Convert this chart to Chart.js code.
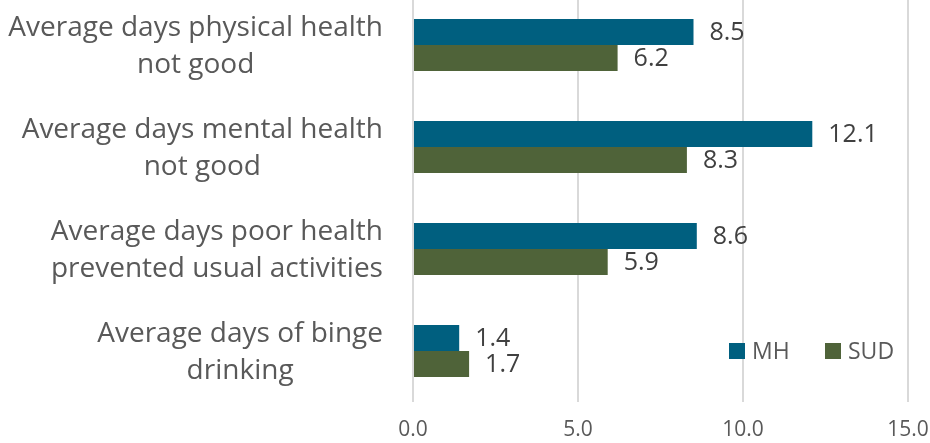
<!DOCTYPE html>
<html lang="en">
<head>
<meta charset="UTF-8">
<title>Average days</title>
<script src="https://cdn.jsdelivr.net/npm/chart.js"></script>
<style>
    html, body { margin: 0; padding: 0; background: #fff; overflow: hidden; }
    #wrap { position: absolute; left: 0; top: -6px; width: 930px; height: 449px; }
</style>
</head>
<body>
<div id="wrap"><canvas id="chart" width="930" height="449"></canvas></div>
<script>
    // categories, each split into the lines shown on the axis
    const categories = [
        ['Average days physical health', 'not good'],
        ['Average days mental health', 'not good'],
        ['Average days poor health', 'prevented usual activities'],
        ['Average days of binge', 'drinking']
    ];
    const mhValues = [8.5, 12.1, 8.6, 1.4];
    const sudValues = [6.2, 8.3, 5.9, 1.7];
    const seriesNames = ['MH', 'SUD'];
    const xTicks = [0, 5, 10, 15];

    const FONT = '"Open Sans", Lato, sans-serif';
    const TEXT = '#595959';

    // value labels to the right of each bar
    const valueLabels = {
        id: 'valueLabels',
        afterDatasetsDraw(chart) {
            const ctx = chart.ctx;
            ctx.save();
            ctx.font = '25px ' + FONT;
            ctx.fillStyle = '#404040';
            ctx.textAlign = 'left';
            ctx.textBaseline = 'middle';
            chart.data.datasets.forEach((ds, i) => {
                chart.getDatasetMeta(i).data.forEach((bar, j) => {
                    ctx.fillText(ds.data[j].toFixed(1), bar.x + 16, bar.y + 1);
                });
            });
            ctx.restore();
        }
    };

    // category labels: block right-aligned, lines centred within block
    const categoryLabels = {
        id: 'categoryLabels',
        afterDraw(chart) {
            const ctx = chart.ctx;
            const yScale = chart.scales.y;
            const right = chart.chartArea.left - 30;
            const lineH = 37;
            ctx.save();
            ctx.font = '28px ' + FONT;
            ctx.fillStyle = TEXT;
            ctx.textAlign = 'center';
            ctx.textBaseline = 'middle';
            categories.forEach((lines, i) => {
                const w = Math.max(...lines.map(l => ctx.measureText(l).width));
                const cx = right - w / 2;
                const cy = yScale.getPixelForTick(i) + 2;
                const top = cy - (lines.length - 1) * lineH / 2;
                lines.forEach((l, k) => ctx.fillText(l, cx, top + k * lineH));
            });
            ctx.restore();
        }
    };

    // legend inside the plot, bottom right
    const insideLegend = {
        id: 'insideLegend',
        afterDraw(chart) {
            const ctx = chart.ctx;
            const area = chart.chartArea;
            const y = area.bottom - 51;
            let x = area.right - 179;
            ctx.save();
            ctx.font = '23px ' + FONT;
            ctx.textBaseline = 'middle';
            ctx.textAlign = 'left';
            chart.data.datasets.forEach(ds => {
                ctx.fillStyle = ds.backgroundColor;
                ctx.fillRect(x, y - 8, 16, 16);
                ctx.fillStyle = TEXT;
                ctx.fillText(ds.label, x + 23, y + 1);
                x += 96;
            });
            ctx.restore();
        }
    };

    new Chart(document.getElementById('chart'), {
        type: 'bar',
        data: {
            labels: categories.map(c => c.join(' ')),
            datasets: [
                { label: seriesNames[0], data: mhValues, backgroundColor: '#005F7F' },
                { label: seriesNames[1], data: sudValues, backgroundColor: '#4F6339' }
            ]
        },
        options: {
            indexAxis: 'y',
            responsive: false,
            animation: false,
            categoryPercentage: 0.51,
            barPercentage: 1.0,
            layout: { padding: { left: 0, right: 22, top: 0, bottom: 0 } },
            plugins: {
                legend: { display: false },
                tooltip: { enabled: false }
            },
            scales: {
                x: {
                    min: 0,
                    max: 15,
                    afterBuildTicks(scale) { scale.ticks = xTicks.map(v => ({ value: v })); },
                    afterFit(scale) {
                        scale.height = 41;
                        scale.paddingLeft = 0;
                        scale.paddingRight = 0;
                    },
                    grid: { color: '#d9d9d9', lineWidth: 2, drawTicks: false },
                    border: { display: false },
                    ticks: {
                        padding: 15,
                        color: TEXT,
                        font: { family: FONT, size: 21 },
                        callback: v => Number(v).toFixed(1)
                    }
                },
                y: {
                    afterFit(scale) { scale.width = 413; },
                    grid: { display: false },
                    border: { display: false },
                    ticks: { display: false }
                }
            }
        },
        plugins: [valueLabels, categoryLabels, insideLegend]
    });
</script>
</body>
</html>
